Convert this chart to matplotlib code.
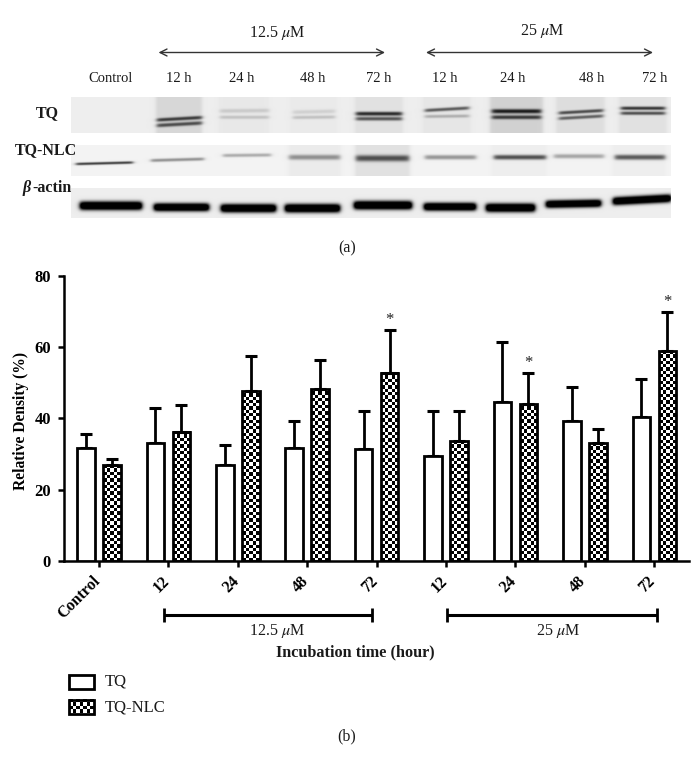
import numpy as np
import matplotlib
matplotlib.use("Agg")
import matplotlib.pyplot as plt
from matplotlib.patches import Rectangle
from matplotlib.transforms import ScaledTranslation

plt.rcParams['font.family'] = ['Liberation Serif', 'DejaVu Serif']
plt.rcParams['mathtext.fontset'] = 'stix'

# ---- chart data ----
categories = ['Control', '12', '24', '48', '72', '12', '24', '48', '72']
tq_mean = [31.6, 33.2, 26.9, 31.8, 31.5, 29.4, 44.7, 39.3, 40.5]
tq_top = [35.5, 42.8, 32.6, 39.2, 42.0, 42.0, 61.4, 48.9, 51.1]
nlc_mean = [26.9, 36.3, 47.7, 48.3, 52.8, 33.6, 44.1, 33.0, 58.8]
nlc_top = [28.5, 43.8, 57.6, 56.4, 64.7, 42.2, 52.8, 37.1, 69.8]
starred = [4, 6, 8]
y_ticks = [0, 20, 40, 60, 80]

# ---- blot panel content: (x0, x1, y, depth, sigma, tilt) in picture pixels ----
tq_lanes = [(155, 201, .09), (218, 268, .02), (290, 336, .015), (354, 402, .05), (422, 470, .03),
            (489, 542, .11), (555, 604, .06), (618, 666, .05)]
tq_bands = [(156, 201, 118.5, .62, 1.8, -2.5), (156, 201, 124, .55, 1.9, -2.5),
            (219, 268, 110.5, .12, 2.0, -.5), (219, 268, 117, .15, 1.7, 0),
            (292, 334, 111.5, .10, 2.0, -1), (292, 334, 117, .16, 1.7, -.5),
            (355, 401, 113.5, .72, 2.0, 0), (355, 401, 118.5, .55, 1.9, 0),
            (424, 468, 109, .55, 1.7, -2.5), (424, 468, 116, .22, 1.6, -.5),
            (491, 540, 111, .72, 2.2, 0), (491, 540, 117, .60, 2.0, 0),
            (558, 602, 111.5, .58, 1.7, -2.5), (558, 602, 117, .50, 1.7, -2.5),
            (620, 664, 108, .68, 1.7, 0), (620, 664, 113, .58, 1.7, 0)]
nlc_lanes = [(288, 340, .03), (354, 409, .07), (491, 546, .02), (612, 665, .02)]
nlc_bands = [(75, 132, 163, .72, 1.3, -1.5), (150, 203, 159.5, .38, 1.6, -1.5), (222, 270, 155, .28, 1.7, -.5),
             (288, 339, 157, .36, 2.6, 0), (355, 408, 158, .58, 3.2, 0), (424, 475, 157, .36, 2.3, 0),
             (493, 545, 157, .62, 2.4, 0), (553, 603, 156, .30, 2.2, 0), (614, 664, 157, .58, 2.6, 0)]
actin_lanes = []
actin_bands = [(79, 141, 205.5, 1.4, 4.3, 0), (153, 208, 207, 1.4, 4.0, 0), (220, 275, 208, 1.4, 4.2, 0),
               (284, 339, 208, 1.4, 4.3, 0), (353, 411, 205, 1.4, 4.3, 0), (423, 475, 206.5, 1.4, 4.0, 0),
               (485, 534, 207.5, 1.4, 4.3, 0), (545, 600, 203.5, 1.4, 3.8, -1), (612, 670, 199.5, 1.4, 4.0, -3)]

W, H = 700, 769
fig = plt.figure(figsize=(7.0, 7.69), dpi=100, facecolor='white')


def blot(y0, y1, base, lanes, bands):
    xs = np.arange(70.5, 670.5, 1.0)
    ys = np.arange(y0, y1, 0.5)
    X, Y = np.meshgrid(xs, ys)
    img = np.full(X.shape, base)
    for a, b, d in lanes:
        img -= d * 0.5 * (np.tanh((X - a) / 2.0) - np.tanh((X - b) / 2.0))
    for a, b, yc, d, s, t in bands:
        mid = yc + t * (X - (a + b) / 2) / (b - a)
        prof = np.exp(-np.abs((Y - mid) / s) ** 2.4)
        taper = 0.5 * (np.tanh((X - a) / 2.6) - np.tanh((X - b) / 2.6))
        img -= d * prof * taper
    a = fig.add_axes([70.5 / W, 1 - y1 / H, 600 / W, (y1 - y0) / H])
    a.imshow(np.clip(img, 0, 1), cmap='gray', vmin=0, vmax=1, aspect='auto', interpolation='bilinear')
    a.axis('off')


blot(97, 133, .93, tq_lanes, tq_bands)
blot(145, 176, .95, nlc_lanes, nlc_bands)
blot(188, 218, .93, actin_lanes, actin_bands)

# ---- bar chart ----
ax = fig.add_axes([64 / W, 1 - 561 / H, 625 / W, 285.3 / H])
ax.set_xlim(-0.504, 8.5)
ax.set_ylim(0, 80)
pos = np.arange(len(categories))
off, bw = 0.187, 0.252
LW = 2.0
checker = np.indices((300, 40)).sum(axis=0) % 2


def checker_fill(axis, patch, cell_w, cell_h):
    bb = patch.get_bbox()
    nx = max(int(round((bb.x1 - bb.x0) / cell_w)), 1)
    ny = max(int(round((bb.y1 - bb.y0) / cell_h)), 1)
    axis.imshow(checker[:ny, :nx], cmap='gray', vmin=0, vmax=1, origin='lower', aspect='auto',
                extent=(bb.x0, bb.x1, bb.y0, bb.y1), interpolation='nearest', zorder=2, clip_on=True)


b1 = ax.bar(pos - off, tq_mean, bw, facecolor='white', edgecolor='black', linewidth=LW, zorder=3)
b2 = ax.bar(pos + off, nlc_mean, bw, facecolor='none', edgecolor='black', linewidth=LW, zorder=3)
for p in b2:
    checker_fill(ax, p, 3.3 / 69.4, 3.3 / 3.566)
ax.set_xlim(-0.504, 8.5)
ax.set_ylim(0, 80)
ekw = dict(fmt='none', ecolor='black', elinewidth=2.0, capsize=4.3, capthick=2.2, zorder=2.5)
ax.errorbar(pos - off, tq_mean, yerr=[np.zeros(9), np.array(tq_top) - np.array(tq_mean)], **ekw)
ax.errorbar(pos + off, nlc_mean, yerr=[np.zeros(9), np.array(nlc_top) - np.array(nlc_mean)], **ekw)
for i in starred:
    ax.annotate('*', (pos[i] + off, nlc_top[i]), xytext=(0, 1.5), textcoords='offset points',
                ha='center', va='bottom', fontsize=12, color='#222222')

for s in ('top', 'right'):
    ax.spines[s].set_visible(False)
for s in ('left', 'bottom'):
    ax.spines[s].set_linewidth(1.8)
ax.set_yticks(y_ticks)
ax.set_yticklabels([str(v) for v in y_ticks], fontweight='bold', fontsize=12)
ax.set_xticks(pos)
ax.set_xticklabels(categories, rotation=45, ha='right', rotation_mode='anchor', fontweight='bold', fontsize=11.5)
ax.tick_params(axis='both', width=1.8, length=4.5, pad=3)
ax.tick_params(axis='y', pad=5)
shift = ScaledTranslation(-5 / 72, -1 / 72, fig.dpi_scale_trans)
for lab in ax.get_xticklabels():
    lab.set_transform(lab.get_transform() + shift)
ax.set_ylabel('Relative Density (%)', fontweight='bold', fontsize=11.2, labelpad=4, y=0.49)
ax.patch.set_alpha(0)

# ---- annotation layer in picture pixels ----
ov = fig.add_axes([0, 0, 1, 1])
ov.set_xlim(0, W)
ov.set_ylim(H, 0)
ov.axis('off')
ov.patch.set_alpha(0)
T = dict(ha='center', va='center', color='#1a1a1a')


def arrow(x0, x1, y):
    ov.annotate('', xy=(x1, y), xytext=(x0, y),
                arrowprops=dict(arrowstyle='<->,head_length=0.5,head_width=0.25', lw=1.0, color='#333333',
                                shrinkA=0, shrinkB=0))


arrow(158.5, 385, 52.5)
arrow(426, 653, 52.5)
ov.text(277, 33, r'12.5 $\mu$M', fontsize=11.5, **T)
ov.text(542, 31, r'25 $\mu$M', fontsize=11.5, **T)
for x, s in zip([111, 178.6, 241.5, 312.5, 378.6, 444.6, 512.5, 592, 655],
                ['Control', '12 h', '24 h', '48 h', '72 h', '12 h', '24 h', '48 h', '72 h']):
    ov.text(x, 79, s, fontsize=10.5, **T)
ov.text(47, 113, 'TQ', fontsize=11.5, fontweight='bold', **T)
ov.text(45.5, 150, 'TQ-NLC', fontsize=11.5, fontweight='bold', **T)
ov.text(27, 188, '\u03b2', fontsize=11.5, fontweight='bold', style='italic', **T)
ov.text(32, 188, '-actin', fontsize=11.5, fontweight='bold', ha='left', va='center', color='#1a1a1a')
ov.text(347, 248, '(a)', fontsize=11.5, **T)

for x0, x1, lab, xl in [(164, 372, r'12.5 $\mu$M', 277), (447, 657, r'25 $\mu$M', 558)]:
    ov.plot([x0, x1], [615, 615], color='black', lw=2.2, solid_capstyle='butt')
    ov.plot([x0, x0], [608, 622], color='black', lw=2.0, solid_capstyle='butt')
    ov.plot([x1, x1], [608, 622], color='black', lw=2.0, solid_capstyle='butt')
    ov.text(xl, 631, lab, fontsize=11.5, **T)
ov.text(355, 652, 'Incubation time (hour)', fontsize=11.7, fontweight='bold', **T)

ov.add_patch(Rectangle((69, 675), 24.5, 13.5, facecolor='white', edgecolor='black', linewidth=2.0))
leg = Rectangle((69, 700), 24.5, 13.5, facecolor='none', edgecolor='black', linewidth=2.0, zorder=3)
ov.add_patch(leg)
checker_fill(ov, leg, 3.6, 3.6)
ov.set_xlim(0, W)
ov.set_ylim(H, 0)
ov.text(105, 682, 'TQ', fontsize=12, ha='left', va='center', color='#1a1a1a')
ov.text(105, 707, 'TQ-NLC', fontsize=12, ha='left', va='center', color='#1a1a1a')
ov.text(347, 736, '(b)', fontsize=11.5, **T)

fig.savefig('out.png', dpi=100)
